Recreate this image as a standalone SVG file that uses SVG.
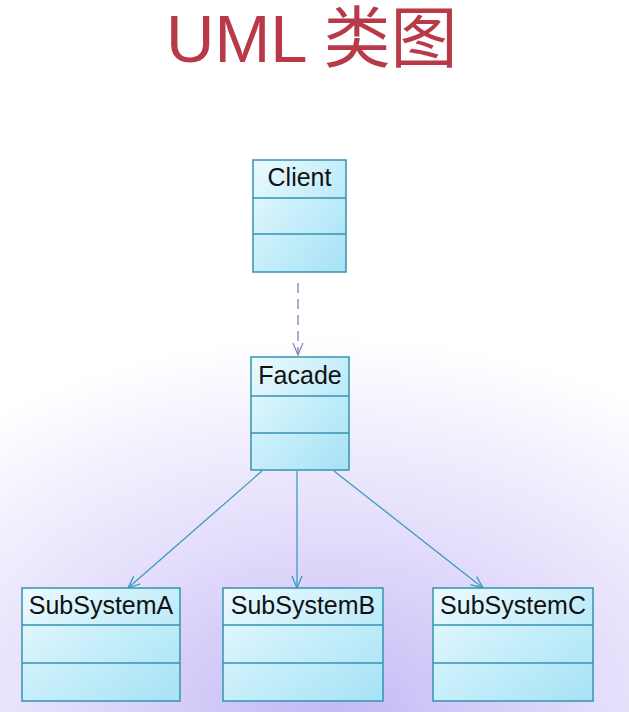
<svg xmlns="http://www.w3.org/2000/svg" width="629" height="712" viewBox="0 0 629 712">
<defs>
<radialGradient id="bg" cx="330" cy="720" r="480" gradientUnits="userSpaceOnUse" gradientTransform="translate(330 720) scale(1.15 0.8) translate(-330 -720)">
<stop offset="0" stop-color="#c4b8f4"/>
<stop offset="0.5" stop-color="#e4ddfb"/>
<stop offset="1" stop-color="#ffffff"/>
</radialGradient>
<linearGradient id="box" x1="0" y1="0" x2="1" y2="1">
<stop offset="0" stop-color="#ecfafe"/>
<stop offset="0.5" stop-color="#c6eefa"/>
<stop offset="1" stop-color="#a6e2f5"/>
</linearGradient>
<marker id="open" viewBox="0 0 14 12" refX="13" refY="6" markerWidth="14" markerHeight="12" markerUnits="userSpaceOnUse" orient="auto">
<path d="M1,1 L13,6 L1,11" fill="none" stroke="#3a9cc0" stroke-width="1.3"/>
</marker>
<marker id="openp" viewBox="0 0 14 12" refX="13" refY="6" markerWidth="14" markerHeight="12" markerUnits="userSpaceOnUse" orient="auto">
<path d="M1,1 L13,6 L1,11" fill="none" stroke="#8a84d0" stroke-width="1.3"/>
</marker>
</defs>
<style>
.cls rect{fill:url(#box);stroke:#3593b0;stroke-width:1.5}
.cls line{stroke:#3593b0;stroke-width:1.5}
.cls text{font-family:"Liberation Sans",Arial,sans-serif;font-size:25px;fill:#111;text-anchor:middle}
.title{font-family:"Liberation Sans","Noto Sans CJK SC",sans-serif;font-size:67px;fill:#b83a48}
.assoc{stroke:#3a9cc0;stroke-width:1.3;fill:none}
.dep{stroke:#9a96c8;stroke-width:1.6;fill:none;stroke-dasharray:10 6}
</style>
<rect x="0" y="0" width="629" height="712" fill="url(#bg)"/>
<text class="title" x="166" y="62">UML 类图</text>
<g id="connectors">
<line class="dep" x1="298" y1="283" x2="298" y2="355" marker-end="url(#openp)"/>
<line class="assoc" x1="262" y1="471" x2="128" y2="588" marker-end="url(#open)"/>
<line class="assoc" x1="297" y1="471" x2="297" y2="588" marker-end="url(#open)"/>
<line class="assoc" x1="334" y1="471" x2="483" y2="588" marker-end="url(#open)"/>
</g>
<g id="client" class="cls">
<rect x="253" y="160" width="93" height="112"/>
<line x1="253" y1="198" x2="346" y2="198"/>
<line x1="253" y1="234" x2="346" y2="234"/>
<text x="299.5" y="186">Client</text>
</g>
<g id="facade" class="cls">
<rect x="251" y="357" width="98" height="113"/>
<line x1="251" y1="396" x2="349" y2="396"/>
<line x1="251" y1="433" x2="349" y2="433"/>
<text x="300" y="384">Facade</text>
</g>
<g id="subsystemA" class="cls">
<rect x="22" y="588" width="158" height="113"/>
<line x1="22" y1="625" x2="180" y2="625"/>
<line x1="22" y1="663" x2="180" y2="663"/>
<text x="101" y="614">SubSystemA</text>
</g>
<g id="subsystemB" class="cls">
<rect x="223" y="588" width="160" height="113"/>
<line x1="223" y1="625" x2="383" y2="625"/>
<line x1="223" y1="663" x2="383" y2="663"/>
<text x="303" y="614">SubSystemB</text>
</g>
<g id="subsystemC" class="cls">
<rect x="433" y="588" width="160" height="113"/>
<line x1="433" y1="625" x2="593" y2="625"/>
<line x1="433" y1="663" x2="593" y2="663"/>
<text x="513" y="614">SubSystemC</text>
</g>
</svg>
